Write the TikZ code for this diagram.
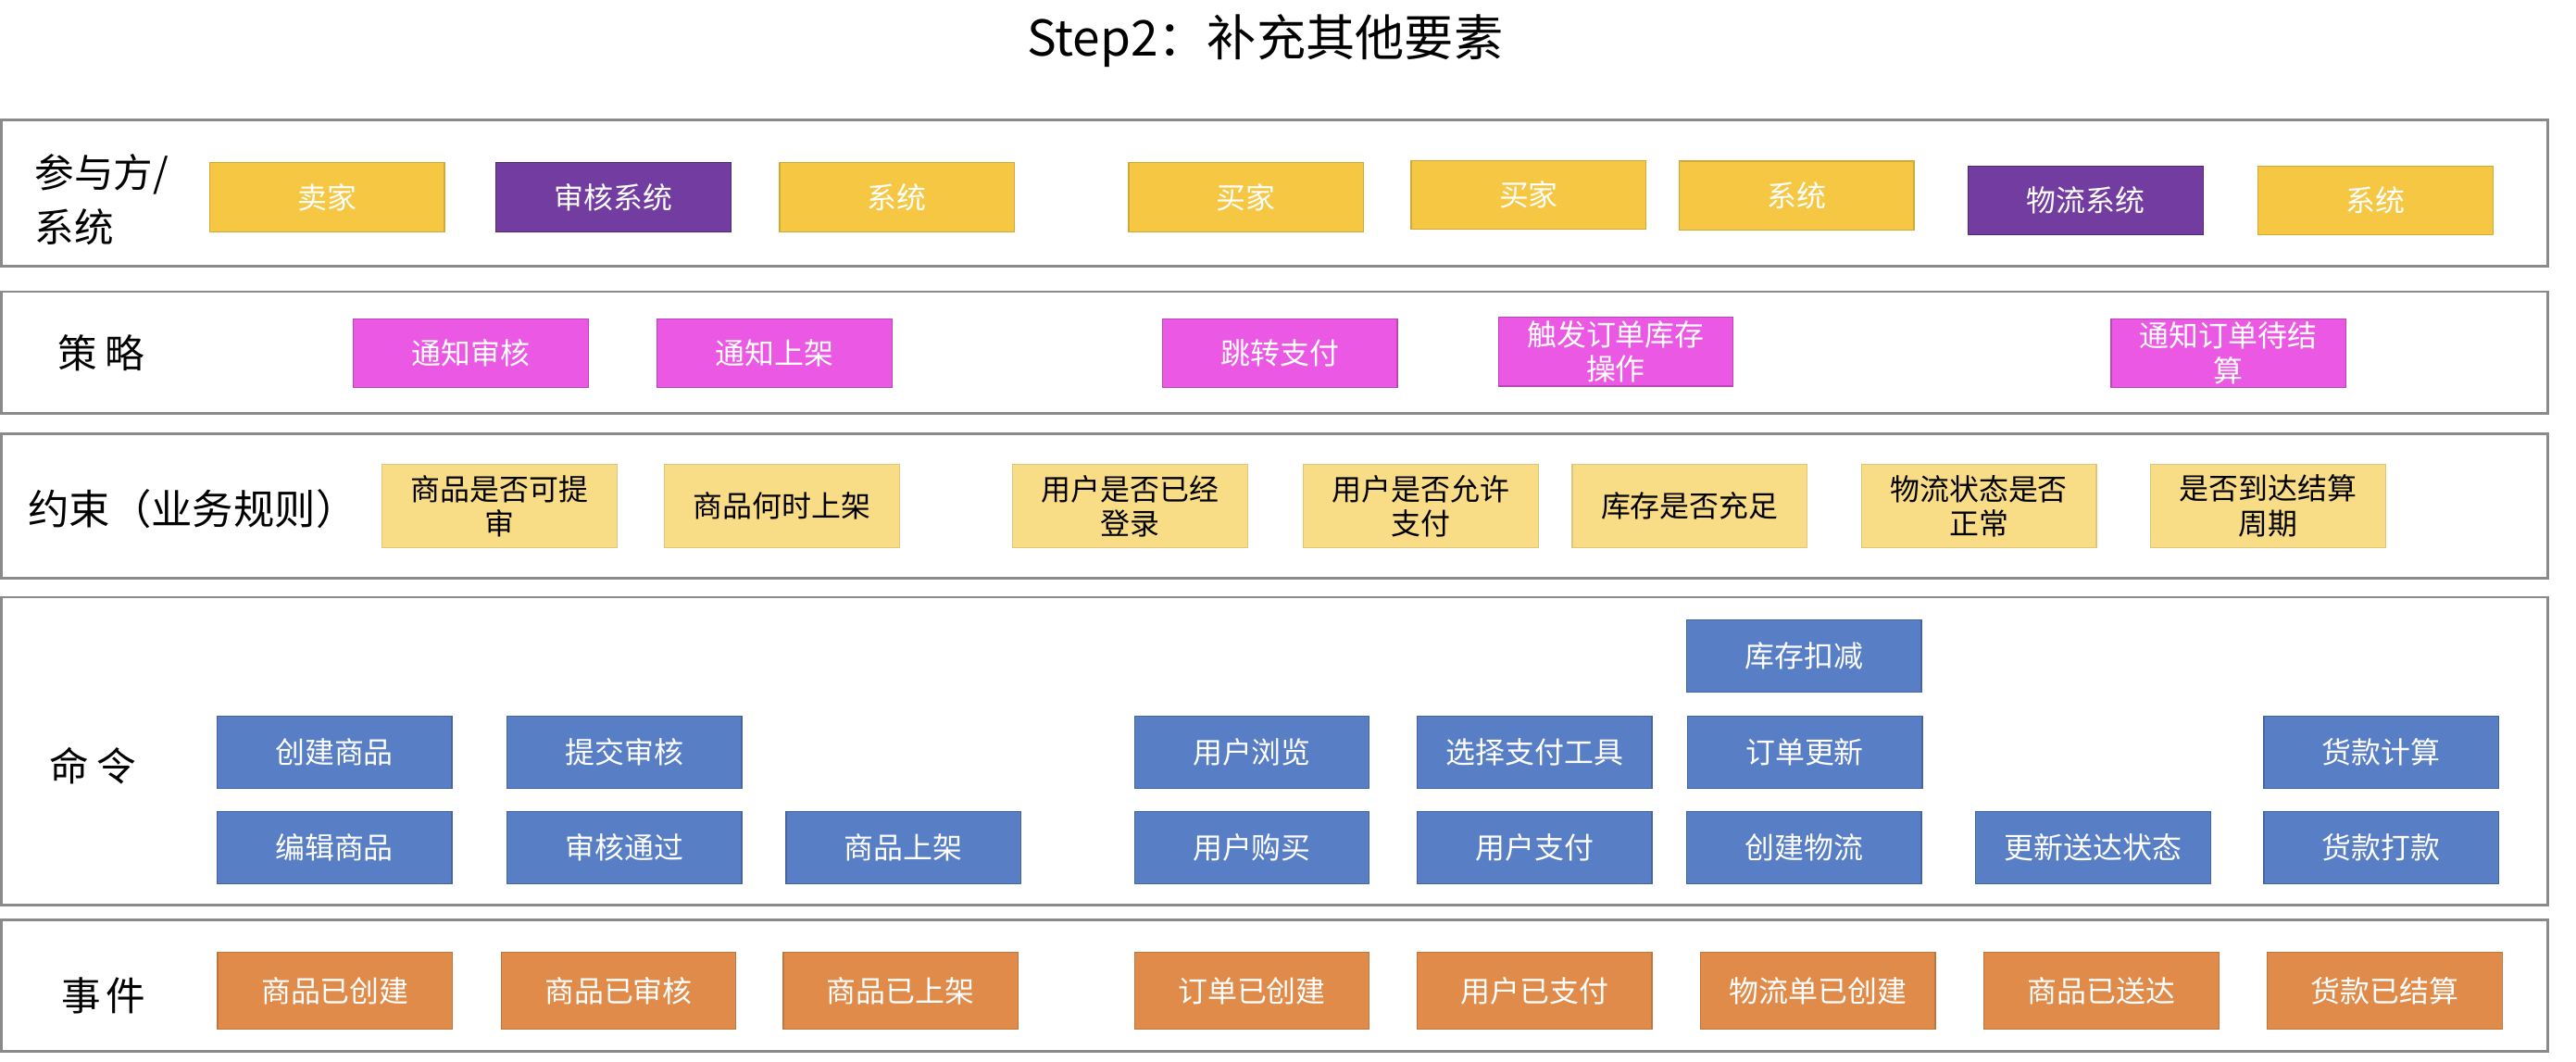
\documentclass[tikz,border=0pt]{standalone}
\usepackage{fontspec}
\newfontfamily\cjk{Noto Sans CJK SC}
\definecolor{cyel}{HTML}{F5C743}
\definecolor{cpur}{HTML}{733CA0}
\definecolor{cmag}{HTML}{EA58E4}
\definecolor{clye}{HTML}{F9DC86}
\definecolor{cblu}{HTML}{587EC6}
\definecolor{cora}{HTML}{E08B4A}
\definecolor{cframe}{HTML}{8A8A8A}
\tikzset{
  lane/.style={draw=cframe, line width=1.6pt},
  lanelabel/.style={font=\cjk\fontsize{24}{33}\selectfont, text=black, inner sep=0pt, align=left},
  card/.style={inner sep=0pt, minimum width=143pt, align=center, font=\cjk\fontsize{18}{21}\selectfont, line width=0.7pt},
  actor/.style={card, fill=cyel, draw=cyel!85!black, text=white, minimum height=42pt},
  sysbox/.style={card, fill=cpur, draw=cpur!70!black, text=white, minimum height=42pt},
  policy/.style={card, fill=cmag, draw=cmag!80!black, text=white, minimum height=42pt},
  rule/.style={card, fill=clye, draw=clye!90!black, text=black, minimum height=51pt},
  cmd/.style={card, fill=cblu, draw=cblu!80!black, text=white, minimum height=44pt},
  evt/.style={card, fill=cora, draw=cora!85!black, text=white, minimum height=47pt}
}
\begin{document}
\begin{tikzpicture}[x=1pt,y=-1pt]
\useasboundingbox (0,0) rectangle (1568,646);
\fill[white] (0,0) rectangle (1568,646);

\node[font=\cjk\fontsize{30}{34}\selectfont, inner sep=0pt] (title) at (770,25) {Step2：补充其他要素};

% lanes
\draw[lane] (1,73) rectangle (1551,162);
\draw[lane] (1,177.5) rectangle (1551,251.5);
\draw[lane] (1,264) rectangle (1551,352);
\draw[lane] (1,363.5) rectangle (1551,551);
\draw[lane] (1,560) rectangle (1551,640);

% lane labels
\node[lanelabel, anchor=west] (l1) at (21,121.5) {参与方/\\系统};
\node[lanelabel] (l2) at (61.5,215) {策\hspace{5pt}略};
\node[lanelabel, anchor=west, font=\cjk\fontsize{25}{30}\selectfont] (l3) at (17,310) {约束（业务规则）};
\node[lanelabel] (l4) at (56.5,466) {命\hspace{5pt}令};
\node[lanelabel] (l5) at (63,606) {事\hspace{3pt}件};

% actors / systems
\node[actor]  (a1) at (199,120)    {卖家};
\node[sysbox] (a2) at (373.5,120)  {审核系统};
\node[actor]  (a3) at (546,120)    {系统};
\node[actor]  (a4) at (758.5,120)  {买家};
\node[actor]  (a5) at (930.5,118.7){买家};
\node[actor]  (a6) at (1093.5,119) {系统};
\node[sysbox] (a7) at (1269.5,122) {物流系统};
\node[actor]  (a8) at (1446,122)   {系统};

% policies
\node[policy] (p1) at (286.5,215)  {通知审核};
\node[policy] (p2) at (471.5,215)  {通知上架};
\node[policy] (p3) at (779,215)    {跳转支付};
\node[policy] (p4) at (983.5,214)  {触发订单库存\\操作};
\node[policy] (p5) at (1356.5,215) {通知订单待结\\算};

% rules
\node[rule] (c1) at (304,308)    {商品是否可提\\审};
\node[rule] (c2) at (476,308)    {商品何时上架};
\node[rule] (c3) at (688,308)    {用户是否已经\\登录};
\node[rule] (c4) at (865,308)    {用户是否允许\\支付};
\node[rule] (c5) at (1028.5,308) {库存是否充足};
\node[rule] (c6) at (1204.5,308) {物流状态是否\\正常};
\node[rule] (c7) at (1380.5,308) {是否到达结算\\周期};

% commands
\node[cmd] (k0)  at (1098,399.5) {库存扣减};
\node[cmd] (k1)  at (203.5,458)  {创建商品};
\node[cmd] (k2)  at (380,458)    {提交审核};
\node[cmd] (k3)  at (762,458)    {用户浏览};
\node[cmd] (k4)  at (934,458)    {选择支付工具};
\node[cmd] (k5)  at (1098.5,458) {订单更新};
\node[cmd] (k6)  at (1449.5,458) {货款计算};
\node[cmd] (k7)  at (203.5,516)  {编辑商品};
\node[cmd] (k8)  at (380,516)    {审核通过};
\node[cmd] (k9)  at (550,516)    {商品上架};
\node[cmd] (k10) at (762,516)    {用户购买};
\node[cmd] (k11) at (934,516)    {用户支付};
\node[cmd] (k12) at (1098,516)   {创建物流};
\node[cmd] (k13) at (1274,516)   {更新送达状态};
\node[cmd] (k14) at (1449.5,516) {货款打款};

% events
\node[evt] (e1) at (204,603)    {商品已创建};
\node[evt] (e2) at (376.5,603)  {商品已审核};
\node[evt] (e3) at (548.3,603)  {商品已上架};
\node[evt] (e4) at (762,603)    {订单已创建};
\node[evt] (e5) at (934,603)    {用户已支付};
\node[evt] (e6) at (1106.5,603) {物流单已创建};
\node[evt] (e7) at (1279,603)   {商品已送达};
\node[evt] (e8) at (1451.5,603) {货款已结算};
\end{tikzpicture}
\end{document}
